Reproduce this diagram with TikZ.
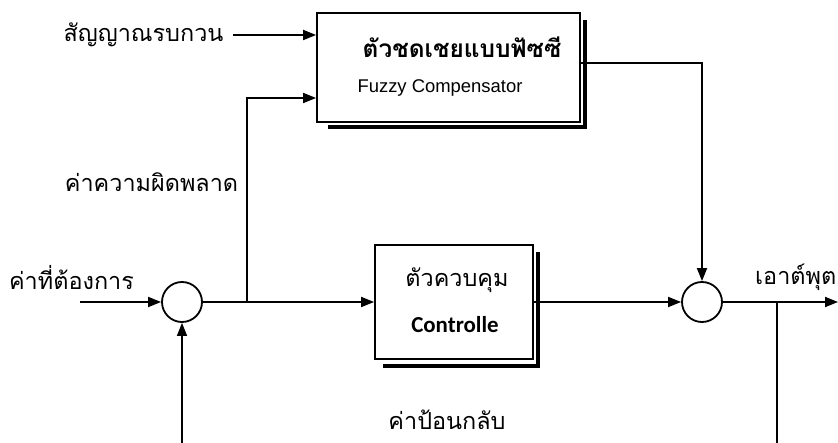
\documentclass[tikz,border=0pt]{standalone}
\usepackage{fontspec}
\setmainfont{Liberation Sans}
\newfontfamily\thai[Script=Thai]{Loma}
\newfontfamily\cali{Carlito}
\usetikzlibrary{arrows.meta,calc}
\tikzset{
  arr/.style={-{Triangle[length=13bp,width=10bp]}},
  wire/.style={line width=1.8bp},
  thinwire/.style={line width=1.3bp},
  blockbox/.style={draw,line width=1.8bp,inner sep=0pt,align=center},
  sumnode/.style={draw,circle,line width=1.8bp,minimum size=40bp,inner sep=0pt},
  thailabel/.style={font=\thai\fontsize{23.5}{26}\selectfont,inner sep=0pt},
  shadowline/.style={line width=4bp}
}
\begin{document}
\begin{tikzpicture}[x=1bp,y=-1bp]
\useasboundingbox (0,0) rectangle (838,443);
% blocks
\node[blockbox,minimum width=263bp,minimum height=109bp] (fuzzy) at (448.5,67.5) {};
\node[inner sep=0pt,font=\thai\bfseries\fontsize{24.5}{27}\selectfont] (fuzzyth) at (462,47) {ตัวชดเชยแบบฟัซซี};
\node[inner sep=0pt,font=\fontsize{18.5}{21}\selectfont] (fuzzyen) at (440,88) {Fuzzy Compensator};
\draw[shadowline] (585,20) -- (585,127) -- (328,127);

\node[blockbox,minimum width=158bp,minimum height=114bp] (ctrl) at (454,302) {};
\node[thailabel] (ctrlth) at (457,280) {ตัวควบคุม};
\node[inner sep=0pt,font=\cali\bfseries\fontsize{23}{26}\selectfont] (ctrlen) at (455,325) {Controlle};
\draw[shadowline] (538,252) -- (538,366) -- (383,366);

% summing junctions
\node[sumnode] (s1) at (182,302) {};
\node[sumnode] (s2) at (702,302) {};

% labels
\node[thailabel] (noise) at (143.5,35) {สัญญาณรบกวน};
\node[thailabel] (err) at (151.5,182) {ค่าความผิดพลาด};
\node[thailabel] (ref) at (71.5,278) {ค่าที่ต้องการ};
\node[thailabel,anchor=west] (outl) at (755,277) {เอาต์พุต};
\node[thailabel] (fbl) at (447,420) {ค่าป้อนกลับ};

% coordinates
\coordinate (noiseend) at (233,35);
\coordinate (inp) at (80,302);
\coordinate (br) at (247,302);
\coordinate (outp) at (838,302);
\coordinate (fbtop) at (777,302);
\coordinate (fbbotR) at (777,443);
\coordinate (fbbotL) at (182,443);

% connectors
\draw[wire,arr] (noiseend) -- ([yshift=32.5bp]fuzzy.west);
\draw[wire,arr] (inp) -- (s1.west);
\draw[wire,arr] (s1.east) -- (ctrl.west);
\draw[wire,arr] (br) |- ([yshift=-30.5bp]fuzzy.west);
\draw[wire,arr] ([yshift=4.5bp]fuzzy.east) -| (s2.north);
\draw[wire,arr] (ctrl.east) -- (s2.west);
\draw[wire,arr] (s2.east) -- (outp);
\draw[thinwire] (fbtop) -- (fbbotR);
\draw[thinwire,arr] (fbbotL) -- (s1.south);
\end{tikzpicture}
\end{document}
